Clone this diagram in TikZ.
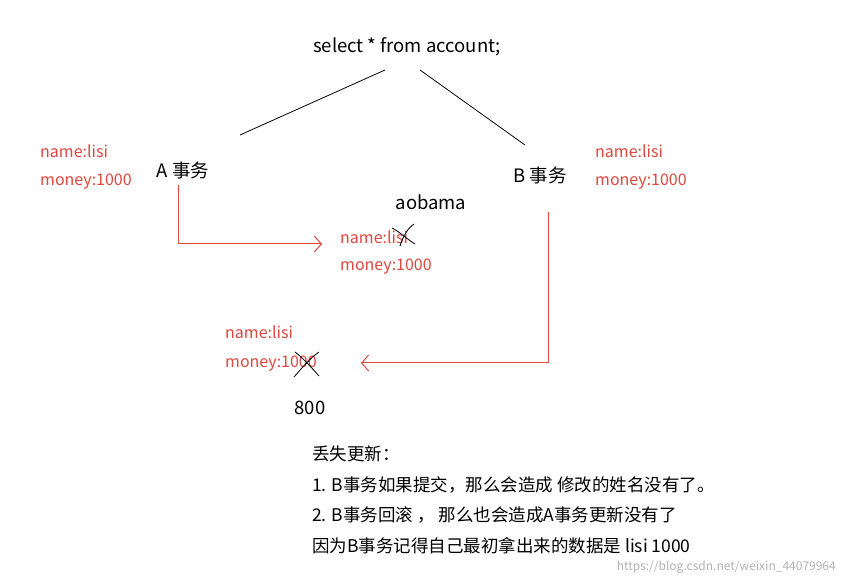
\documentclass[tikz,border=0pt]{standalone}
\usepackage{fontspec}
\setmainfont{Noto Sans CJK SC}
\usetikzlibrary{arrows.meta}
\definecolor{myred}{RGB}{222,72,62}
\begin{document}
\begin{tikzpicture}[x=1pt,y=-1pt,
  red/.style={text=myred,font=\fontsize{16}{18}\selectfont,anchor=west,inner sep=0},
  blk/.style={text=black,font=\fontsize{18.5}{20}\selectfont,inner sep=0},
  note/.style={text=black,font=\fontsize{17.5}{19}\selectfont,anchor=west,inner sep=0},
  conn/.style={draw=myred,line width=1pt,-{Straight Barb[length=7pt,width=16pt]}},
  cross/.style={draw=black,line width=0.8pt}]
\useasboundingbox (0,0) rectangle (844,585);
\fill[white] (0,0) rectangle (844,585);
\node[blk] (sel) at (407,47) {select * from account;};
\node[blk] (A) at (183,170) {A 事务};
\node[blk] (B) at (540,175) {B 事务};
\coordinate (s1) at (385,70); \coordinate (a1) at (240,135);
\coordinate (s2) at (420,70); \coordinate (b1) at (525,145);
\draw[line width=0.8pt] (s1) -- (a1);
\draw[line width=0.8pt] (s2) -- (b1);
\node[red] (ln) at (40,151) {name:lisi};
\node[red] (lm) at (40,182) {money:1000};
\node[red] (rn) at (595,151) {name:lisi};
\node[red] (rm) at (595,182) {money:1000};
\node[blk] (ao) at (431,202) {aobama};
\node[red] (mn) at (340,237) {name:lisi};
\node[red] (mm) at (340,267) {money:1000};
\node[red] (bn) at (225,332) {name:lisi};
\node[red] (bm) at (225,364) {money:1000};
\node[blk] (e8) at (310,408) {800};
\coordinate (a2) at (178,185); \coordinate (a3) at (178,244); \coordinate (a4) at (322,244);
\draw[conn] (a2) -- (a3) -- (a4);
\coordinate (b2) at (548,212); \coordinate (b3) at (548,363); \coordinate (b4) at (361,363);
\draw[conn] (b2) -- (b3) -- (b4);
\draw[cross] (392,228) .. controls (400,232) and (408,240) .. (415,244);
\draw[cross] (400,246) .. controls (403,236) and (408,228) .. (414,224);
\draw[cross] (295,352) .. controls (303,358) and (312,368) .. (319,376);
\draw[cross] (294,377) .. controls (302,368) and (310,358) .. (319,352);
\node[note] (t0) at (312,454) {丢失更新：};
\node[note] (t1) at (312,485) {1. B事务如果提交，那么会造成 修改的姓名没有了。};
\node[note] (t2) at (312,515) {2. B事务回滚 ， 那么也会造成A事务更新没有了};
\node[note] (t3) at (312,546) {因为B事务记得自己最初拿出来的数据是 lisi 1000};
\node[text=gray!60,font=\fontsize{12}{13}\selectfont,anchor=east,inner sep=0] (wm) at (836,567) {https://blog.csdn.net/weixin\_44079964};
\end{tikzpicture}
\end{document}
